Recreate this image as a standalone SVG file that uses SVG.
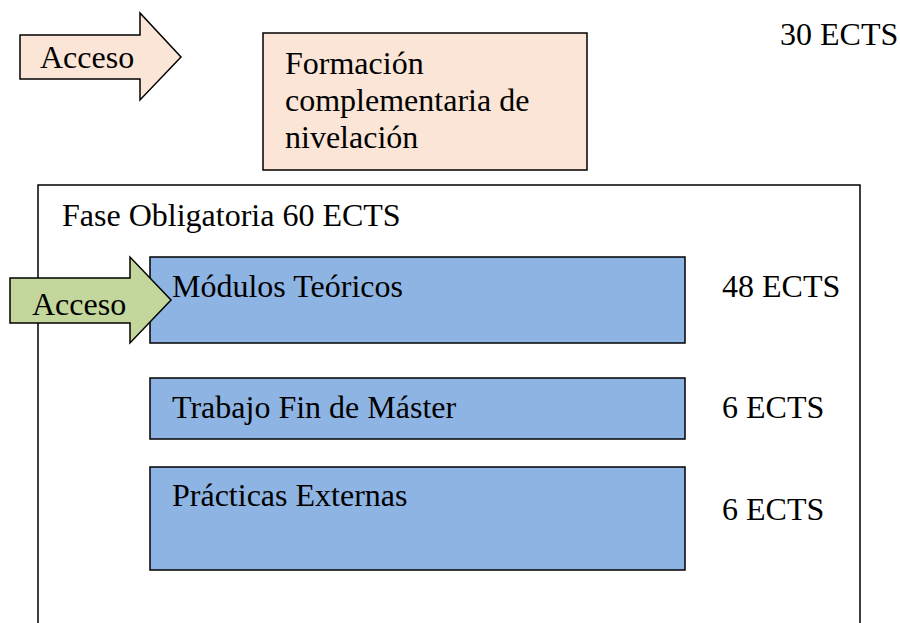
<svg xmlns="http://www.w3.org/2000/svg" width="900" height="623" viewBox="0 0 900 623">
<style>
text{font-family:"Liberation Serif","Times New Roman",serif;font-size:32px;fill:#000}
.s{stroke:#000;stroke-width:1.5}
.peach{fill:#FBE5D6}
.blue{fill:#8EB4E3}
.green{fill:#C3D69B}
</style>
<rect width="900" height="623" fill="#fff"/>
<g id="fase">
<path class="s" fill="none" d="M38,623 V185 H860 V623"/>
<text x="62" y="226">Fase Obligatoria 60 ECTS</text>
</g>
<g id="formacion">
<rect class="s peach" x="263" y="33" width="324" height="137"/>
<text x="285" y="74">Formación</text>
<text x="285" y="111">complementaria de</text>
<text x="285" y="148">nivelación</text>
</g>
<text x="780" y="45">30 ECTS</text>
<g id="modulos">
<rect class="s blue" x="150" y="257" width="535" height="86"/>
<text x="172" y="297">Módulos Teóricos</text>
</g>
<text x="722" y="297">48 ECTS</text>
<g id="trabajo">
<rect class="s blue" x="150" y="378" width="535" height="61"/>
<text x="172" y="418">Trabajo Fin de Máster</text>
</g>
<text x="722" y="418">6 ECTS</text>
<g id="practicas">
<rect class="s blue" x="150" y="467" width="535" height="103"/>
<text x="172" y="506">Prácticas Externas</text>
</g>
<text x="722" y="520">6 ECTS</text>
<g id="connectors">
<g id="acceso1">
<path class="s peach" d="M20,35 H140 V13 L181,57 L140,100 V79 H20 Z"/>
<text x="40" y="68">Acceso</text>
</g>
<g id="acceso2">
<path class="s green" d="M10,278 H130 V257 L171,300 L130,343 V323 H10 Z"/>
<text x="32" y="315">Acceso</text>
</g>
</g>
</svg>
